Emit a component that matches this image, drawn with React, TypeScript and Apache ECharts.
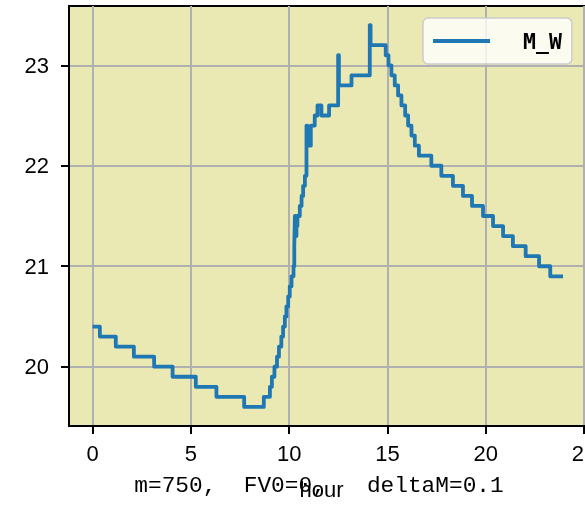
import React, { useEffect, useRef } from 'react';
import * as echarts from 'echarts';

// Breakpoints (hour at which a new M_W value starts)
const hours = [
  0, 0.37, 1.18, 2.1, 3.13, 4.07, 5.25, 6.3, 7.71, 8.71,
  9.02, 9.12, 9.25, 9.38, 9.48, 9.6, 9.69, 9.78, 9.86, 9.95,
  10.03, 10.12, 10.22, 10.26, 10.29, 10.33, 10.37, 10.42, 10.54, 10.63,
  10.71, 10.8, 10.88, 10.92, 11.1, 11.3, 11.44, 11.64, 12.03, 12.49,
  12.53, 13.17, 14.1, 14.14, 14.91, 15.05, 15.2, 15.37, 15.54, 15.71,
  15.9, 16.05, 16.22, 16.39, 16.6, 17.23, 17.74, 18.33, 18.84, 19.3,
  19.86, 20.37, 20.88, 21.38, 22.03, 22.71, 23.28, 23.93,
];
const mW = [
  20.4, 20.3, 20.2, 20.1, 20.0, 19.9, 19.8, 19.7, 19.6, 19.7,
  19.8, 19.9, 20.0, 20.1, 20.2, 20.3, 20.4, 20.5, 20.6, 20.7,
  20.8, 20.9, 21.0, 21.2, 21.5, 21.3, 21.4, 21.5, 21.6, 21.7,
  21.8, 21.9, 22.4, 22.2, 22.4, 22.5, 22.6, 22.5, 22.6, 23.1,
  22.8, 22.9, 23.4, 23.2, 23.1, 23.0, 22.9, 22.8, 22.7, 22.6,
  22.5, 22.4, 22.3, 22.2, 22.1, 22.0, 21.9, 21.8, 21.7, 21.6,
  21.5, 21.4, 21.3, 21.2, 21.1, 21.0, 20.9, 20.9,
];
const xTicks = [0, 5, 10, 15, 20, 25];
const yTicks = [20, 21, 22, 23];
const seriesName = 'M_W';
const xName = 'hour';
const titleText = 'm=750,  FV0=0,   deltaM=0.1';

const LABEL_FONT = "'Liberation Sans', Arial, sans-serif";

export default function App() {
  const ref = useRef<HTMLDivElement>(null);
  useEffect(() => {
    const chart = echarts.init(ref.current!, null, { renderer: 'svg' });
    const data = hours.map((h, i) => [h, mW[i]]);
    chart.setOption({
      animation: false,
      grid: {
        left: 69,
        top: 6,
        width: 519,
        height: 420,
        outerBoundsMode: 'none',
        containLabel: false,
        show: true,
        backgroundColor: '#ebe9b3',
        borderColor: '#000',
        borderWidth: 2,
      },
      xAxis: {
        type: 'value',
        min: -1.2,
        max: 25.2,
        name: xName,
        nameLocation: 'middle',
        nameGap: 52,
        nameTextStyle: { fontFamily: LABEL_FONT, fontSize: 22, color: '#000', padding: [0, 14, 0, 0] },
        axisLine: { show: true, onZero: false, lineStyle: { color: '#000', width: 2 } },
        axisTick: { show: true, length: 8, lineStyle: { color: '#000', width: 2 }, customValues: xTicks },
        axisLabel: { customValues: xTicks, margin: 16, fontFamily: LABEL_FONT, fontSize: 22, color: '#000' },
        splitLine: { show: true, lineStyle: { color: '#b0b0b0', width: 2 } },
      },
      yAxis: {
        type: 'value',
        min: 19.41,
        max: 23.59,
        axisLine: { show: true, onZero: false, lineStyle: { color: '#000', width: 2 } },
        axisTick: { show: true, length: 8, lineStyle: { color: '#000', width: 2 }, customValues: yTicks },
        axisLabel: { customValues: yTicks, margin: 20, fontFamily: LABEL_FONT, fontSize: 22, color: '#000' },
        splitLine: { show: true, lineStyle: { color: '#b0b0b0', width: 2 } },
      },
      legend: {
        left: 423,
        top: 18,
        padding: [12, 10, 12, 10],
        backgroundColor: 'rgba(255,255,255,0.8)',
        borderColor: '#cccccc',
        borderWidth: 1.5,
        borderRadius: 5,
        itemWidth: 57,
        itemHeight: 3.8,
        icon: 'rect',
        itemStyle: { color: '#1f77b4' },
        formatter: '{n|{name}}',
        textStyle: {
          rich: {
            n: {
              padding: [0, 0, 0, 28],
              fontSize: 21.5,
              lineHeight: 25,
              fontWeight: 'bold',
              fontFamily: "'DejaVu Sans Mono', monospace",
              color: '#000',
            },
          },
        },
        data: [seriesName],
      },
      graphic: [
        {
          type: 'text',
          x: 319,
          y: 486,
          style: {
            text: titleText,
            fontFamily: "'Liberation Mono', monospace",
            fontSize: 22.8,
            fill: '#000',
            align: 'center',
            verticalAlign: 'middle',
            textAlign: 'center',
            textVerticalAlign: 'middle',
          },
        },
      ],
      series: [
        {
          type: 'line',
          name: seriesName,
          data,
          step: 'end',
          symbol: 'none',
          clip: true,
          color: '#1f77b4',
          lineStyle: { color: '#1f77b4', width: 3.8, join: 'round' },
        },
      ],
    });
    return () => chart.dispose();
  }, []);
  return <div ref={ref} style={{ position: 'fixed', left: 0, top: 0, width: 585, height: 508 }} />;
}
